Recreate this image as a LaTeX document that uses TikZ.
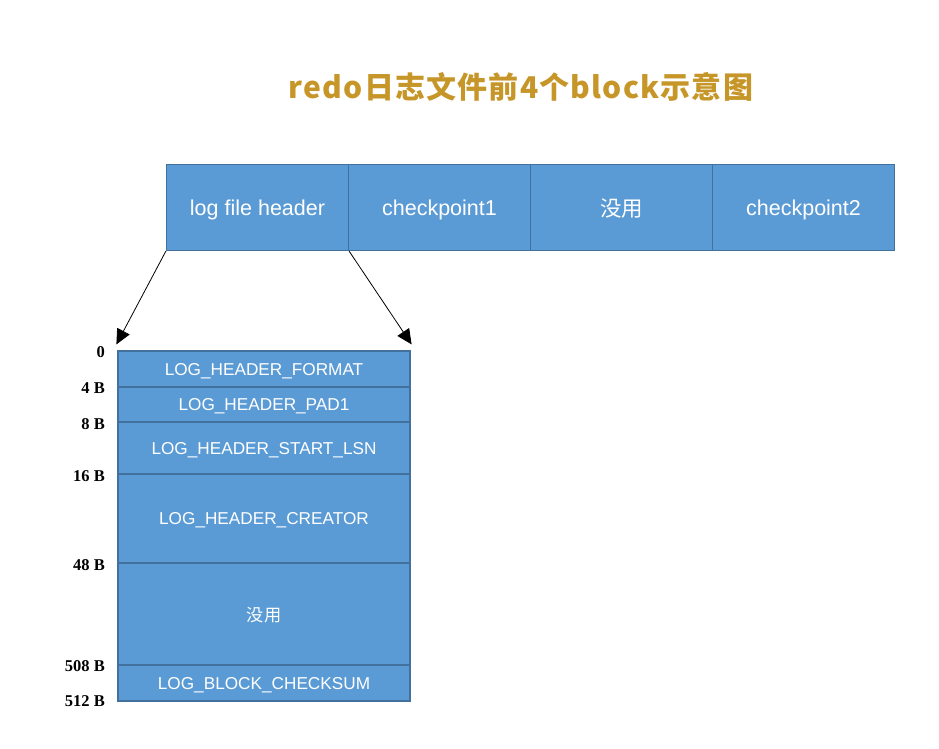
\documentclass[tikz,border=0pt]{standalone}
\usepackage{fontspec}
\usetikzlibrary{positioning,arrows.meta}
\newfontfamily\cjk{Noto Sans CJK SC}
\newfontfamily\titlefont[LetterSpace=4]{Noto Sans CJK SC}
\newfontfamily\boxfont{Liberation Sans}
\newfontfamily\numfont{Liberation Serif}
\definecolor{cellblue}{HTML}{5B9BD5}
\definecolor{celledge}{HTML}{41719C}
\definecolor{titlegold}{HTML}{C69629}
\tikzset{
  cell/.style={draw=celledge,line width=1.2pt,fill=cellblue,text=white,text depth=0pt,
    inner sep=0pt,minimum width=182pt,minimum height=86pt,font=\boxfont\fontsize{21.5}{24}\selectfont},
  field/.style={draw=celledge,line width=1.2pt,fill=cellblue,text=white,text depth=0pt,
    inner sep=0pt,minimum width=292pt,font=\boxfont\fontsize{17.2}{19}\selectfont},
  offset/.style={anchor=east,inner sep=0pt,font=\numfont\bfseries\fontsize{16.5}{18}\selectfont},
}
\begin{document}
\begin{tikzpicture}[x=1pt,y=-1pt,>={Triangle[length=15pt,width=14pt]}]
  \useasboundingbox (0,0) rectangle (939,749);

  % Title
  \node (title) at (521,87) [text=titlegold,font=\titlefont\bfseries\fontsize{30}{34}\selectfont]
    {redo日志文件前4个block示意图};

  % The first four blocks of the file
  \node [cell] (hdr) at (257.5,207.5) {log file header};
  \node [cell,right=-1.2pt of hdr] (cp1) {checkpoint1};
  \node [cell,right=-1.2pt of cp1] (unused) {\cjk 没用};
  \node [cell,right=-1.2pt of unused] (cp2) {checkpoint2};

  % Fields of the log file header: name/text/top/height
  \foreach \name/\txt/\top/\hgt in {
    fmt/LOG\_HEADER\_FORMAT/351/36,
    pad/LOG\_HEADER\_PAD1/387/35,
    lsn/LOG\_HEADER\_START\_LSN/422/52,
    creator/LOG\_HEADER\_CREATOR/474/89,
    free/{\cjk 没用}/563/102,
    sum/LOG\_BLOCK\_CHECKSUM/665/36} {
    \node [field,minimum height=\hgt pt] (\name) at (264,\top+\hgt/2) {\txt};
  }

  % Byte offsets on the left
  \foreach \y/\lab in {352/0, 388/4 B, 424/8 B, 476/16 B, 565/48 B, 666/508 B, 701/512 B} {
    \node [offset] at (105,\y) {\lab};
  }

  % Zoom arrows from the header block
  \coordinate (tipL) at ([xshift=-1pt,yshift=6pt]fmt.north west);
  \coordinate (tipR) at ([xshift=1pt,yshift=6pt]fmt.north east);
  \draw [->,line width=0.8pt] (hdr.south west) -- (tipL);
  \draw [->,line width=0.8pt] (hdr.south east) -- (tipR);
\end{tikzpicture}
\end{document}
